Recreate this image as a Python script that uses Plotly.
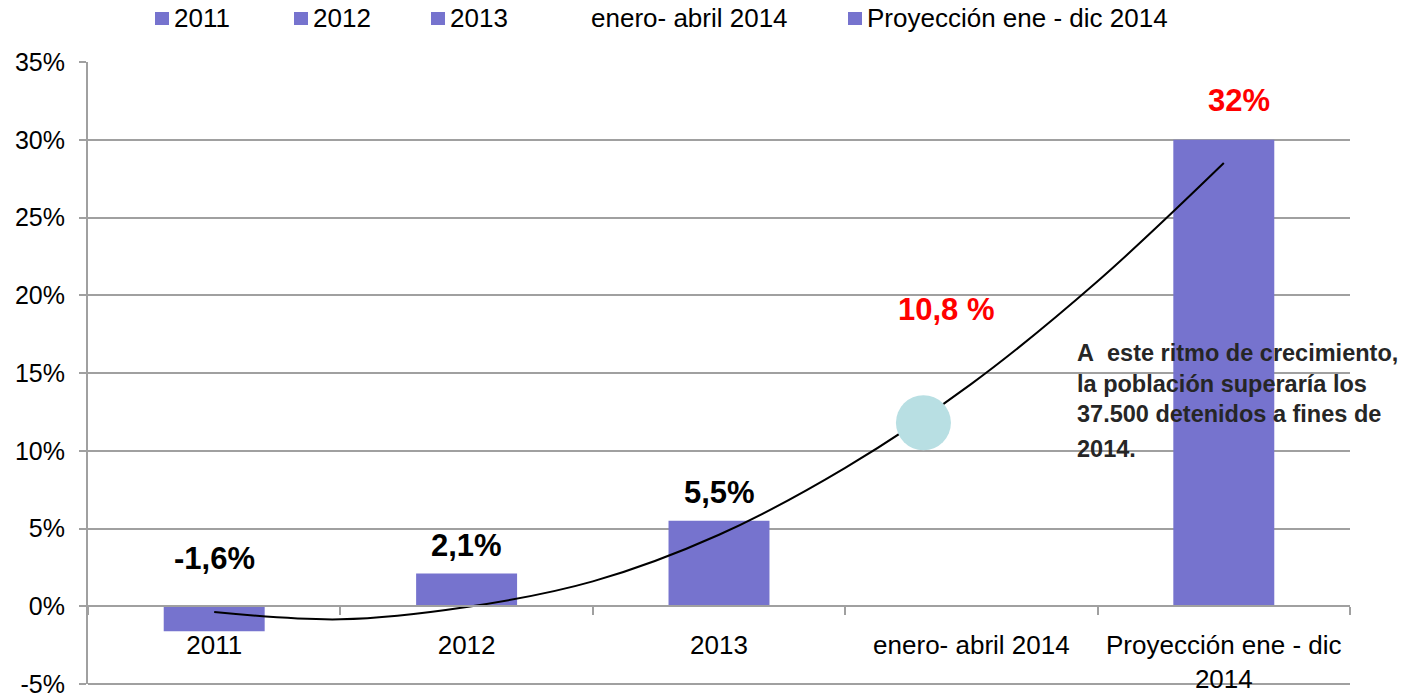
import plotly.graph_objects as go

# ---------------- data ----------------
categories = ["2011", "2012", "2013", "enero- abril 2014", "Proyección ene - dic<br>2014"]
legend_names = ["2011", "2012", "2013", "enero- abril 2014", "Proyección ene - dic 2014"]
bar_values = [-1.6, 2.1, 5.5, None, 30.0]
label_texts = ["-1,6%", "2,1%", "5,5%", "10,8 %", "32%"]
label_colors = ["#000000", "#000000", "#000000", "#FF0000", "#FF0000"]
circle_x = [2.81]
circle_y = [11.8]
trend_x = [0, 0.5, 1, 1.5, 2, 2.5, 3, 3.5, 4]
trend_y = [-0.37, -0.84, -0.05, 1.6, 4.6, 8.9, 14.3, 20.9, 28.5]
y_tick_vals = [-5, 0, 5, 10, 15, 20, 25, 30, 35]
y_tick_labels = ["-5%", "0%", "5%", "10%", "15%", "20%", "25%", "30%", "35%"]
note_lines = ["A\u00a0 este ritmo de crecimiento,", "la población superaría los", "37.500 detenidos a fines de"]
note_last = "2014."

# ---------------- layout helpers ----------------
W, H = 1422, 693
L, R, T, B = 88, 1350, 62, 684
FONT = "Liberation Sans, Arial, sans-serif"
BAR_COLOR = "#7673CE"
GRID = "#A0A0A0"
Y_MIN, Y_MAX = y_tick_vals[0], y_tick_vals[-1]


def px_x(px):
    return (px - L) / (R - L)


def px_y(py):
    return (B - py) / (B - T)


x_idx = list(range(len(categories)))
# label positions (layout): x index and y in data units
label_pos = [(0, 3.1), (1, 3.9), (2, 7.3), (2.9, 19.1), (4.06, 32.5)]

fig = go.Figure()

fig.add_trace(go.Bar(
    x=[i for i, v in zip(x_idx, bar_values) if v is not None],
    y=[v for v in bar_values if v is not None],
    width=0.4,
    marker=dict(color=BAR_COLOR, line=dict(width=0)),
    showlegend=False,
    hoverinfo="skip",
))

fig.add_trace(go.Scatter(
    x=trend_x, y=trend_y, mode="lines",
    line=dict(color="#000000", width=2, shape="spline", smoothing=1.0),
    showlegend=False, hoverinfo="skip",
))

fig.add_trace(go.Scatter(
    x=circle_x, y=circle_y, mode="markers",
    marker=dict(size=55, color="#B8DFE3", line=dict(width=0)),
    showlegend=False, hoverinfo="skip",
))

annotations = []
for (lx, ly), txt, col in zip(label_pos, label_texts, label_colors):
    annotations.append(dict(
        x=lx, y=ly, xref="x", yref="y", text=txt, showarrow=False,
        xanchor="center", yanchor="middle",
        font=dict(family=FONT, size=31, color=col, weight="bold"),
    ))

# note text
annotations.append(dict(
    x=px_x(1075), y=px_y(384), xref="paper", yref="paper",
    text="<br>".join(note_lines), showarrow=False, align="left",
    xanchor="left", yanchor="middle",
    font=dict(family=FONT, size=23.5, color="#262626", weight="bold"),
))
annotations.append(dict(
    x=px_x(1075), y=px_y(449), xref="paper", yref="paper",
    text=note_last, showarrow=False, align="left",
    xanchor="left", yanchor="middle",
    font=dict(family=FONT, size=23.5, color="#262626", weight="bold"),
))

# custom legend
legend_square_x = [155, 294, 431, None, 848]
legend_text_x = [172, 311, 448, 589, 865]
shapes = []
for name, sx, tx in zip(legend_names, legend_square_x, legend_text_x):
    if sx is not None:
        shapes.append(dict(
            type="rect", xref="paper", yref="paper",
            x0=px_x(sx), x1=px_x(sx + 14), y0=px_y(25), y1=px_y(12),
            fillcolor=BAR_COLOR, line=dict(width=0), layer="above",
        ))
    annotations.append(dict(
        x=px_x(tx), y=px_y(18), xref="paper", yref="paper",
        text=name, showarrow=False, xanchor="left", yanchor="middle",
        font=dict(family=FONT, size=26, color="#000000"),
    ))

# bottom gridline (plotly drops the grid line at the range edge)
shapes.append(dict(
    type="line", xref="paper", yref="paper", x0=0, x1=1, y0=0, y1=0,
    line=dict(color=GRID, width=2), layer="below",
))

fig.update_layout(
    width=W, height=H,
    margin=dict(l=L, r=W - R, t=T, b=H - B, pad=0, autoexpand=False),
    paper_bgcolor="white", plot_bgcolor="white",
    showlegend=False,
    bargap=0.6,
    annotations=annotations,
    shapes=shapes,
    xaxis=dict(
        range=[-0.5, 4.5],
        tickmode="array", tickvals=x_idx, ticktext=categories,
        anchor="free", position=(0 - Y_MIN) / (Y_MAX - Y_MIN),
        showline=True, linecolor=GRID, linewidth=2,
        showgrid=False, zeroline=False,
        ticks="", ticklabelstandoff=16,
        automargin=False, ticklabeloverflow="allow",
        tickfont=dict(family=FONT, size=26, color="#000000"),
        minor=dict(tickmode="array", tickvals=[-0.5, 0.5, 1.5, 2.5, 3.5, 4.5],
                   ticks="outside", ticklen=8, tickwidth=2, tickcolor=GRID,
                   showgrid=False),
        fixedrange=True,
    ),
    yaxis=dict(
        range=[Y_MIN, Y_MAX],
        tickmode="array", tickvals=y_tick_vals, ticktext=y_tick_labels,
        showline=True, linecolor=GRID, linewidth=2,
        showgrid=True, gridcolor=GRID, gridwidth=2,
        zeroline=False,
        ticks="outside", ticklen=7, tickwidth=2, tickcolor=GRID,
        ticklabelstandoff=9,
        automargin=False, ticklabeloverflow="allow",
        tickfont=dict(family=FONT, size=25, color="#000000"),
        fixedrange=True,
    ),
)

fig.write_html(
    "out.html",
    config={"displayModeBar": False},
    post_script="document.body.style.margin='0';document.body.style.overflow='hidden';",
)
